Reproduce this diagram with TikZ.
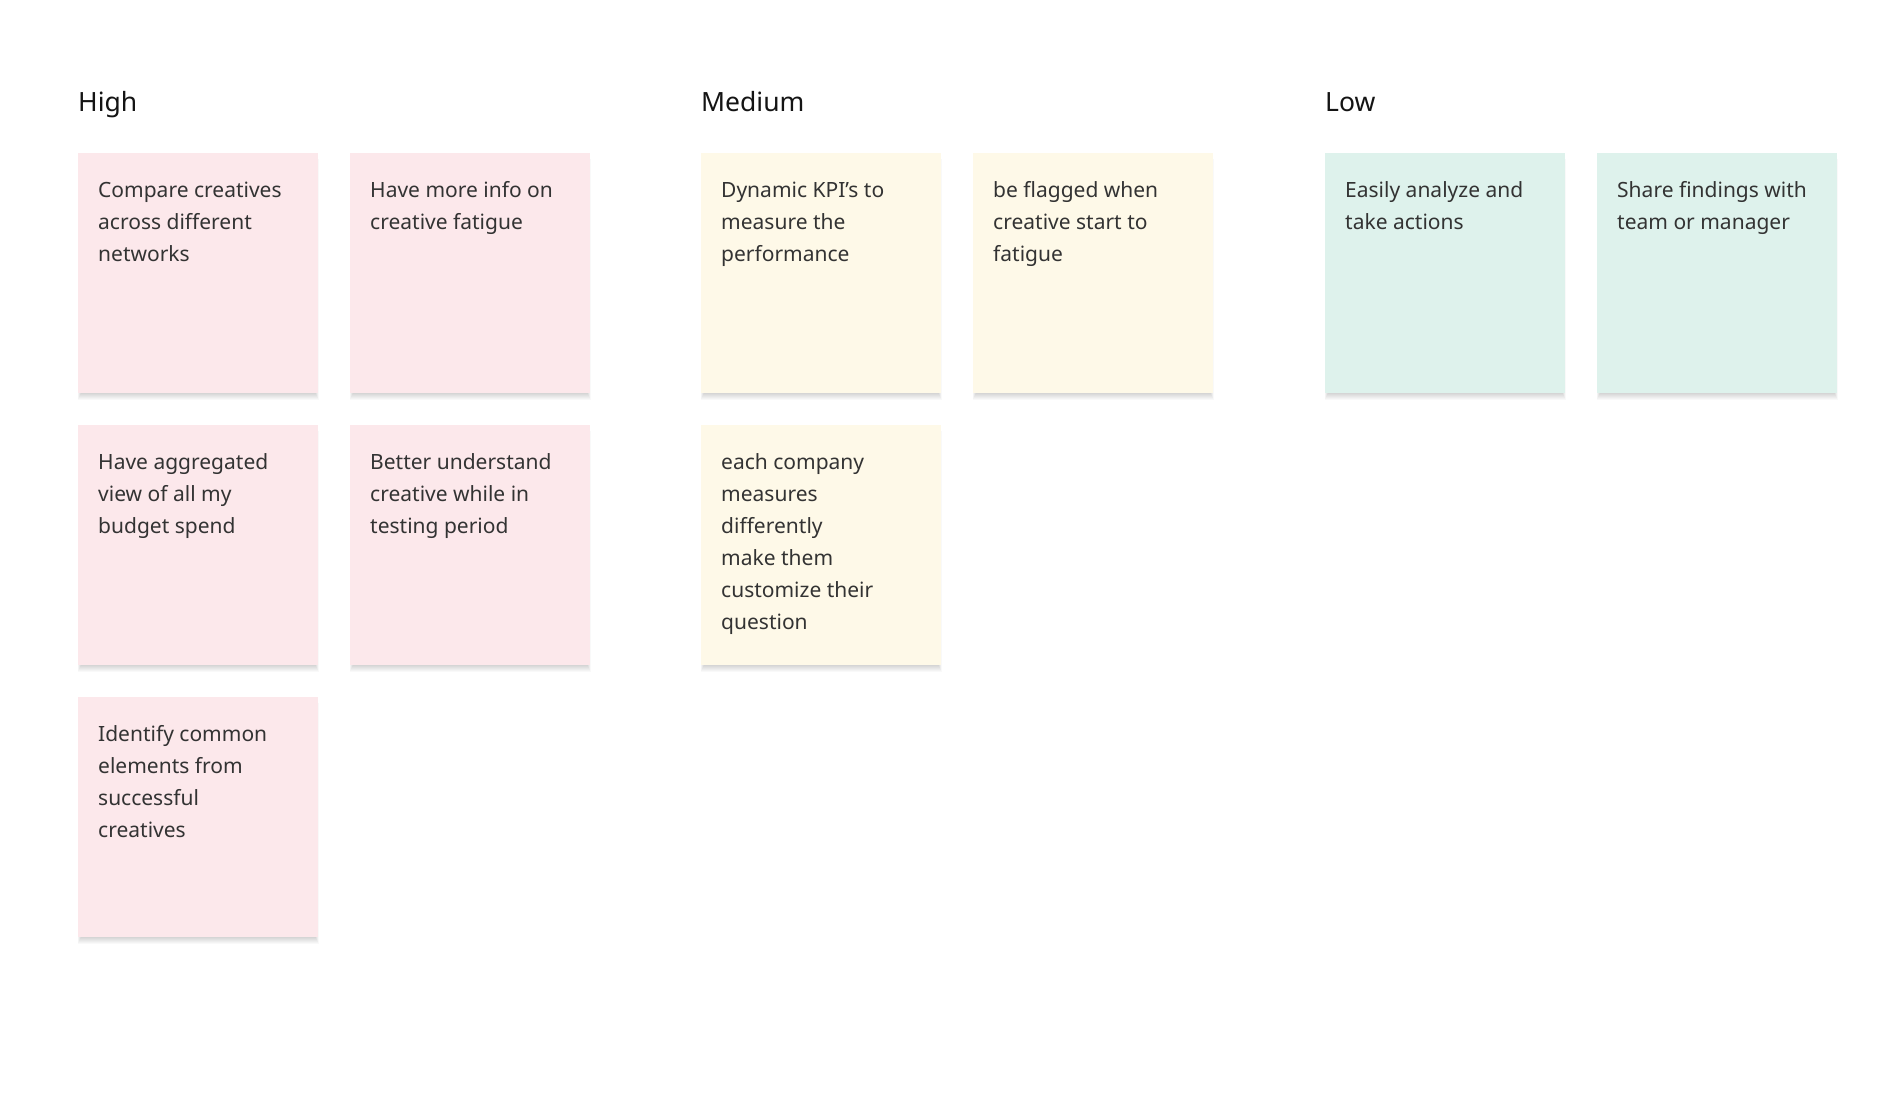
\documentclass[tikz,border=0pt]{standalone}
\usepackage{fontspec}
\setmainfont{Noto Sans}
\usetikzlibrary{backgrounds}
\definecolor{notepink}{RGB}{252,232,235}
\definecolor{noteyellow}{RGB}{254,249,232}
\definecolor{notemint}{RGB}{222,242,236}
\definecolor{notetxt}{RGB}{51,51,51}
\definecolor{headtxt}{RGB}{20,20,20}
\tikzset{
  note/.style={minimum width=240pt, minimum height=240pt, anchor=north west, inner sep=0pt, draw=none},
  notetext/.style={anchor=base west, inner sep=0pt, text=notetxt, font=\fontsize{21}{32}\selectfont},
  head/.style={anchor=base west, inner sep=0pt, text=headtxt, font=\fontsize{26.5}{32}\selectfont},
  shadowlayer/.style={fill=black, opacity=0.022}
}
\newcommand{\notebody}[1]{\parbox[t]{215pt}{\raggedright #1}}
\begin{document}
\begin{tikzpicture}[x=1pt,y=1pt]
\useasboundingbox (0,0) rectangle (1879,-1105);
% headers
\node[head] (hHigh) at (78,-112) {High};
\node[head] (hMed) at (701,-112) {Medium};
\node[head] (hLow) at (1325,-112) {Low};
% High notes
\node[note, fill=notepink] (n1) at (78,-153) {};
\node[note, fill=notepink] (n2) at (350,-153) {};
\node[note, fill=notepink] (n3) at (78,-425) {};
\node[note, fill=notepink] (n4) at (350,-425) {};
\node[note, fill=notepink] (n5) at (78,-697) {};
% Medium notes
\node[note, fill=noteyellow] (m1) at (701,-153) {};
\node[note, fill=noteyellow] (m2) at (973,-153) {};
\node[note, fill=noteyellow] (m3) at (701,-425) {};
% Low notes
\node[note, fill=notemint] (l1) at (1325,-153) {};
\node[note, fill=notemint] (l2) at (1597,-153) {};
% shadows
\begin{scope}[on background layer]
\fill[white] (0,0) rectangle (1879,-1105);
\foreach \nn in {n1,n2,n3,n4,n5,m1,m2,m3,l1,l2}{
  \foreach \ii in {1,...,7}{
    \fill[shadowlayer] ([shift={(3-0.45*\ii,-6)}]\nn.north west) rectangle ([shift={(-3+0.45*\ii,-\ii)}]\nn.south east);
  }
}
\end{scope}
% texts
\node[notetext] (t1) at ([shift={(20,-44)}]n1.north west) {\notebody{Compare creatives\\across different\\networks}};
\node[notetext] (t2) at ([shift={(20,-44)}]n2.north west) {\notebody{Have more info on\\creative fatigue}};
\node[notetext] (t3) at ([shift={(20,-44)}]n3.north west) {\notebody{Have aggregated\\view of all my\\budget spend}};
\node[notetext] (t4) at ([shift={(20,-44)}]n4.north west) {\notebody{Better understand\\creative while in\\testing period}};
\node[notetext] (t5) at ([shift={(20,-44)}]n5.north west) {\notebody{Identify common\\elements from\\successful\\creatives}};
\node[notetext] (u1) at ([shift={(20,-44)}]m1.north west) {\notebody{Dynamic KPI’s to\\measure the\\performance}};
\node[notetext] (u2) at ([shift={(20,-44)}]m2.north west) {\notebody{be flagged when\\creative start to\\fatigue}};
\node[notetext] (u3) at ([shift={(20,-44)}]m3.north west) {\notebody{each company\\measures\\differently\\make them\\customize their\\question}};
\node[notetext] (v1) at ([shift={(20,-44)}]l1.north west) {\notebody{Easily analyze and\\take actions}};
\node[notetext] (v2) at ([shift={(20,-44)}]l2.north west) {\notebody{Share findings with\\team or manager}};
\end{tikzpicture}
\end{document}
